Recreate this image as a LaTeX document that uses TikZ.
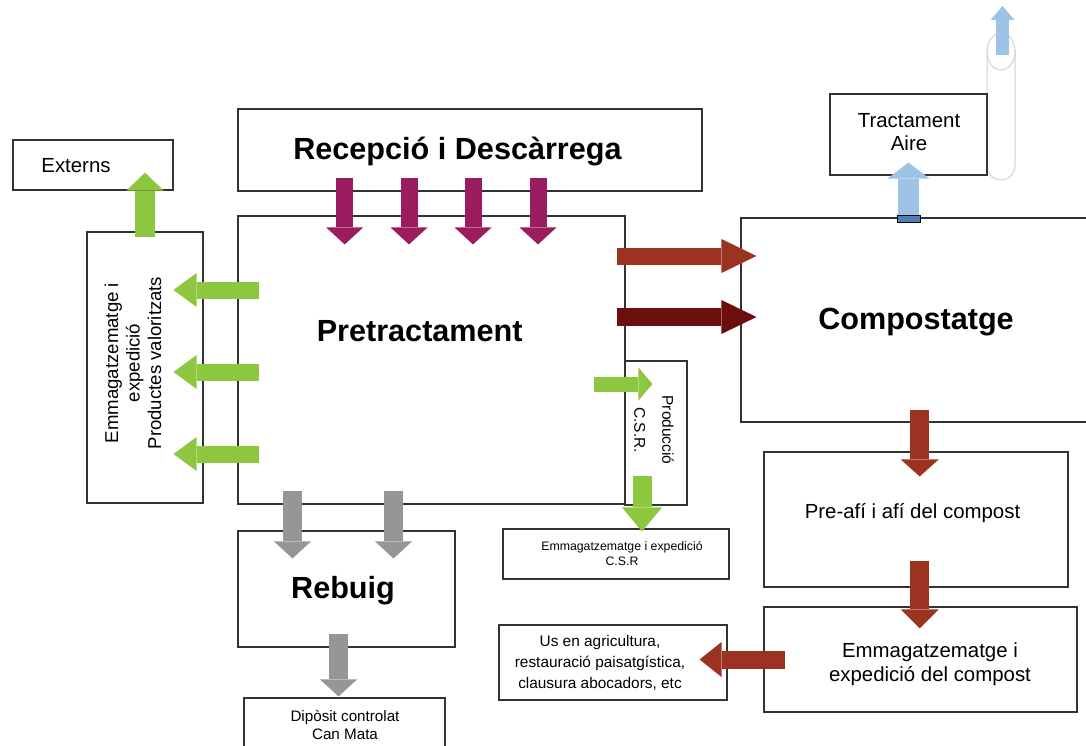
\documentclass[tikz,border=0pt]{standalone}
\usepackage{fontspec}
\setmainfont{Liberation Sans}
\usetikzlibrary{arrows.meta,calc}
\definecolor{cgreen}{HTML}{8DC63F}
\definecolor{cmag}{HTML}{9B1D5F}
\definecolor{cgray}{HTML}{969696}
\definecolor{cbrown}{HTML}{9C3321}
\definecolor{cdbrown}{HTML}{6C0E0E}
\definecolor{cblue}{HTML}{9DC3E6}
\definecolor{cvent}{HTML}{4F7FB8}
\definecolor{cchim}{HTML}{D2D2D2}
\tikzset{
  box/.style={draw=black!80, line width=1.1pt, fill=white, inner sep=0pt},
  titletxt/.style={font=\fontsize{30.6}{34}\selectfont\bfseries, inner sep=0pt, anchor=base},
  bigtxt/.style={font=\fontsize{20.4}{23.5}\selectfont, inner sep=0pt, align=center},
  blockarrow/.style n args={4}{draw=#1, line width=#2,
     -{Triangle[width=#3,length=#4,line width=0pt]}},
}
\begin{document}
\begin{tikzpicture}[x=1pt,y=-1pt]
\clip (0,0) rectangle (1086,746);
\fill[white] (0,0) rectangle (1086,746);

% chimney
\draw[cchim, line width=1pt] (987,50) -- (987,166)
  arc[start angle=180, end angle=0, x radius=14, y radius=14] -- (1015,50);
\draw[cchim, line width=1pt] (1001,51.5) ellipse[x radius=14, y radius=18.5];
\coordinate (chimtop) at (1001,51.5);

% boxes
\node[box, minimum width=160, minimum height=50] (externs) at (93,165) {};
\node[box, minimum width=116, minimum height=271] (emmleft) at (145,367.5) {};
\node[box, minimum width=464, minimum height=82] (recep) at (470,150) {};
\node[box, minimum width=387, minimum height=288] (pretr) at (431.5,360) {};
\node[box, minimum width=62, minimum height=144] (prod) at (656,433) {};
\node[box, minimum width=350, minimum height=204] (compost) at (916,320) {};
\node[box, minimum width=157, minimum height=81] (tract) at (908.5,134.5) {};
\node[box, minimum width=304, minimum height=135] (preafi) at (916,519.5) {};
\node[box, minimum width=313, minimum height=105] (emmcomp) at (920.5,659.5) {};
\node[box, minimum width=228, minimum height=75] (usagri) at (613,662.5) {};
\node[box, minimum width=226, minimum height=50] (csrbox) at (616,554) {};
\node[box, minimum width=217, minimum height=116] (rebuig) at (346.5,589) {};
\node[box, minimum width=201, minimum height=62] (diposit) at (344.5,729) {};

% texts
\node[bigtxt] (externs-t) at (76,166) {Externs};
\node[font=\fontsize{18.6}{21.5}\selectfont, align=center, inner sep=0pt, rotate=90]
  (emmleft-t) at (133,363) {Emmagatzematge i\\expedició\\Productes valoritzats};
\node[titletxt] (recep-t) at (457.5,160) {Recepció i Descàrrega};
\node[titletxt] (pretr-t) at (419.7,341.7) {Pretractament};
\node[titletxt] (compost-t) at (916,329) {Compostatge};
\node[titletxt] (rebuig-t) at (343,598) {Rebuig};
\node[bigtxt] (tract-t) at (909,132) {Tractament\\Aire};
\node[font=\fontsize{20.4}{23}\selectfont, inner sep=0pt, anchor=base] (preafi-t) at (912.5,518) {Pre-afí i afí del compost};
\node[bigtxt] (emmcomp-t) at (930,664) {Emmagatzematge i\\expedició del compost};
\node[font=\fontsize{15.4}{21}\selectfont, align=center, inner sep=0pt] (usagri-t) at (600,663) {Us en agricultura,\\restauració paisatgística,\\clausura abocadors, etc};
\node[font=\fontsize{12.3}{15}\selectfont, align=center, inner sep=0pt] (csrbox-t) at (622,554) {Emmagatzematge i expedició\\C.S.R};
\node[font=\fontsize{15.2}{18}\selectfont, align=center, inner sep=0pt] (diposit-t) at (345,724.5) {Dipòsit controlat\\Can Mata};
\node[font=\fontsize{15.5}{28}\selectfont, align=center, inner sep=0pt, rotate=-90] (prod-t) at (654,430) {Producció\\C.S.R.};

% vent
\node[draw=black, line width=0.8pt, fill=cvent, minimum width=23, minimum height=7, inner sep=0pt] (vent) at (908.5,219) {};

% arrows
\foreach \dx/\ex in {-125.3/-86.8, -61/-22.5, 3/41.5, 68/106.5}
  \draw[blockarrow={cmag}{17pt}{37pt}{17pt}] ($(recep.south)+(\dx,-14)$) -- ($(pretr.north)+(\ex,29)$);
\draw[blockarrow={cgreen}{20pt}{37pt}{18pt}] ($(emmleft.north)+(0,6)$) -- ($(externs.south)+(52,-18)$);
\foreach \dy/\ey in {-70/-77.5, 12/4.5, 94/86.5}
  \draw[blockarrow={cgreen}{17pt}{34pt}{23pt}] ($(pretr.west)+(22,\dy)$) -- ($(emmleft.east)+(-30,\ey)$);
\draw[blockarrow={cbrown}{17pt}{34pt}{35pt}] ($(pretr.east)+(-9,-104)$) -- ($(compost.west)+(16,-64)$);
\draw[blockarrow={cdbrown}{18pt}{34pt}{35pt}] ($(pretr.east)+(-9,-43)$) -- ($(compost.west)+(16,-3)$);
\draw[blockarrow={cgreen}{15pt}{33pt}{14pt}] ($(pretr.east)+(-32,24)$) -- ($(prod.west)+(28,-49)$);
\draw[blockarrow={cgreen}{19pt}{40pt}{24pt}] ($(prod.south)+(-14,-30)$) -- ($(csrbox.north)+(26,3)$);
\draw[blockarrow={cgray}{18.5pt}{37pt}{17pt}] ($(pretr.south)+(-139,-14)$) -- ($(rebuig.north)+(-54,28)$);
\draw[blockarrow={cgray}{18.5pt}{37pt}{17pt}] ($(pretr.south)+(-38,-14)$) -- ($(rebuig.north)+(47,28)$);
\draw[blockarrow={cgray}{19pt}{37pt}{17pt}] ($(rebuig.south)+(-8,-14)$) -- ($(diposit.north)+(-6,-1)$);
\draw[blockarrow={cbrown}{19pt}{38pt}{17pt}] ($(compost.south)+(3.7,-13)$) -- ($(preafi.north)+(3.7,25)$);
\draw[blockarrow={cbrown}{19pt}{38pt}{19pt}] ($(preafi.south)+(3.7,-27)$) -- ($(emmcomp.north)+(-0.8,22)$);
\draw[blockarrow={cbrown}{18pt}{35pt}{22pt}] ($(emmcomp.west)+(22,0)$) -- ($(usagri.east)+(-28,-3)$);
\draw[blockarrow={cblue}{21pt}{42pt}{16pt}] ($(vent.north)+(0,-0.5)$) -- ($(tract.south)+(0,-13)$);
\draw[blockarrow={cblue}{13pt}{24pt}{14pt}] ($(chimtop)+(1.5,4)$) -- ($(chimtop)+(1.5,-45.5)$);
\end{tikzpicture}
\end{document}
